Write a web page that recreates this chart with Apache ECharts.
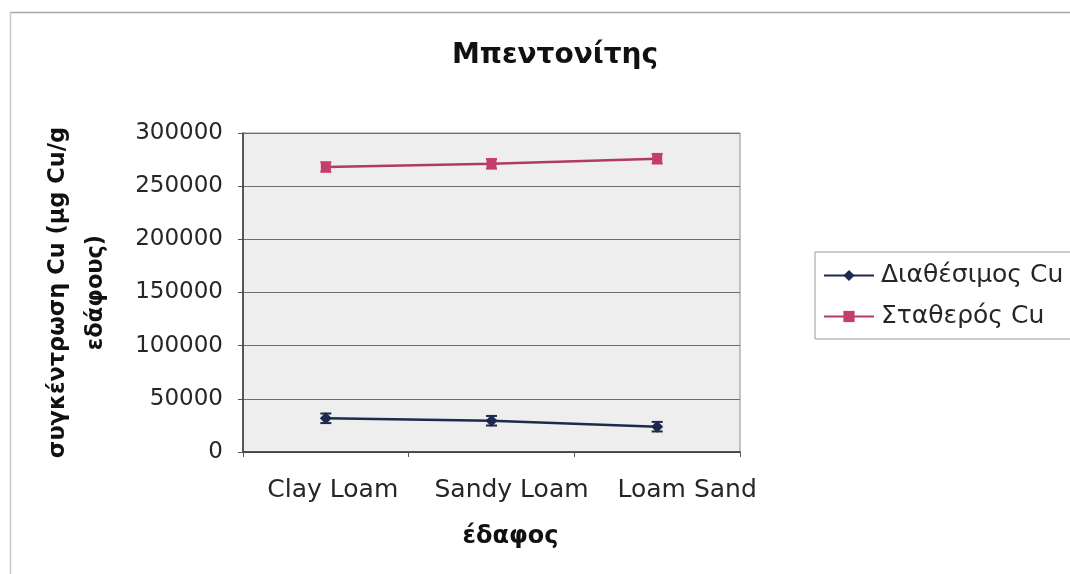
<!DOCTYPE html>
<html>
<head>
<meta charset="utf-8">
<script src="https://cdn.jsdelivr.net/npm/echarts@6/dist/echarts.min.js"></script>
<style>
  html, body { margin: 0; padding: 0; background: #ffffff; }
  #chart { width: 1070px; height: 574px; }
</style>
</head>
<body>
<div id="chart"></div>
<script>
// Soil types on the category axis
const soils = ['Clay Loam', 'Sandy Loam', 'Loam Sand'];
// Tick labels of the concentration axis
const yTicks = [0, 50000, 100000, 150000, 200000, 250000, 300000];
// Available Cu (μg Cu/g soil)
const availableCu = [31700, 29400, 23800];
// Stable Cu (μg Cu/g soil)
const stableCu = [268000, 271000, 275800];
// Standard deviations shown as error bars
const availableErr = [4500, 4500, 4500];
const stableErr = [4500, 4500, 4500];

const seriesNames = ['Διαθέσιμος Cu', 'Σταθερός Cu'];
const navy = '#1c2a4e';
const rose = '#b03a62';
const roseFill = '#c43d6d';
const font = 'DejaVu Sans';
const textColor = '#262626';

function errorBars(values, errs, color) {
  return {
    type: 'custom',
    silent: true,
    z: 4,
    data: values.map((v, i) => [i, v - errs[i], v + errs[i]]),
    renderItem: function (params, api) {
      const lo = api.coord([api.value(0), api.value(1)]);
      const hi = api.coord([api.value(0), api.value(2)]);
      const half = 5.5;
      const st = { stroke: color, lineWidth: 2 };
      return {
        type: 'group',
        children: [
          { type: 'line', shape: { x1: hi[0], y1: hi[1], x2: lo[0], y2: lo[1] }, style: st },
          { type: 'line', shape: { x1: hi[0] - half, y1: hi[1], x2: hi[0] + half, y2: hi[1] }, style: st },
          { type: 'line', shape: { x1: lo[0] - half, y1: lo[1], x2: lo[0] + half, y2: lo[1] }, style: st }
        ]
      };
    }
  };
}

const labelShift = [14, 40, 60];
const richLabels = {};
labelShift.forEach((s, i) => {
  richLabels['p' + i] = { fontFamily: font, fontSize: 25, color: textColor, padding: [0, 0, 0, s] };
});

const chart = echarts.init(document.getElementById('chart'));
chart.setOption({
  animation: false,
  backgroundColor: '#ffffff',
  title: {
    text: 'Μπεντονίτης',
    left: 550,
    textAlign: 'center',
    top: 37,
    textStyle: { fontFamily: font, fontWeight: 'bold', fontSize: 28, color: '#111' }
  },
  graphic: [
    { type: 'line', shape: { x1: 10, y1: 12.5, x2: 1070, y2: 12.5 }, style: { stroke: '#a8a8a8', lineWidth: 1.5 } },
    { type: 'line', shape: { x1: 10.5, y1: 12, x2: 10.5, y2: 574 }, style: { stroke: '#c8c8c8', lineWidth: 1.5 } }
  ],
  legend: {
    left: 815,
    top: 252,
    orient: 'vertical',
    padding: [11, 30, 10, 8],
    itemGap: 16,
    itemWidth: 50,
    itemHeight: 14,
    borderColor: '#9a9a9a',
    borderWidth: 1,
    textStyle: { fontFamily: font, fontSize: 25, color: textColor, padding: [0, 0, 0, 2] },
    data: seriesNames
  },
  grid: {
    left: 243, right: 330, top: 133, bottom: 122,
    show: true,
    backgroundColor: '#eeeeee',
    borderColor: '#8c8c8c',
    borderWidth: 1
  },
  xAxis: {
    type: 'category',
    data: soils,
    boundaryGap: true,
    name: 'έδαφος',
    nameLocation: 'middle',
    nameGap: 73,
    nameTextStyle: { fontFamily: font, fontWeight: 'bold', fontSize: 24, color: '#111', padding: [0, 0, 0, 38] },
    axisLine: { lineStyle: { color: '#333', width: 1.5 } },
    axisTick: { show: true, length: 5, alignWithLabel: false, lineStyle: { color: '#555' } },
    axisLabel: {
      margin: 26,
      formatter: (v, i) => '{p' + i + '|' + v + '}',
      rich: richLabels
    },
    splitLine: { show: false }
  },
  yAxis: {
    type: 'value',
    min: yTicks[0],
    max: yTicks[yTicks.length - 1],
    interval: yTicks[1] - yTicks[0],
    name: 'συγκέντρωση Cu (μg Cu/g\nεδάφους)',
    nameLocation: 'middle',
    nameGap: 128,
    nameRotate: 90,
    nameTextStyle: { fontFamily: font, fontWeight: 'bold', fontSize: 22.5, color: '#111', lineHeight: 38, align: 'center' },
    axisLine: { show: true, lineStyle: { color: '#333', width: 1.5 } },
    axisTick: { show: true, length: 5, inside: false, lineStyle: { color: '#555' } },
    axisLabel: { margin: 20, fontFamily: font, fontSize: 23, color: textColor, formatter: v => String(v) },
    splitLine: { show: true, lineStyle: { color: '#6e6e6e', width: 1.2 } }
  },
  series: [
    {
      name: seriesNames[0],
      type: 'line',
      data: availableCu,
      symbol: 'diamond',
      symbolSize: 12,
      z: 5,
      itemStyle: { color: navy },
      lineStyle: { color: navy, width: 2.5 }
    },
    {
      name: seriesNames[1],
      type: 'line',
      data: stableCu,
      symbol: 'rect',
      symbolSize: 10,
      z: 5,
      itemStyle: { color: roseFill },
      lineStyle: { color: rose, width: 2.5 }
    },
    errorBars(availableCu, availableErr, navy),
    errorBars(stableCu, stableErr, roseFill)
  ]
});
</script>
</body>
</html>
